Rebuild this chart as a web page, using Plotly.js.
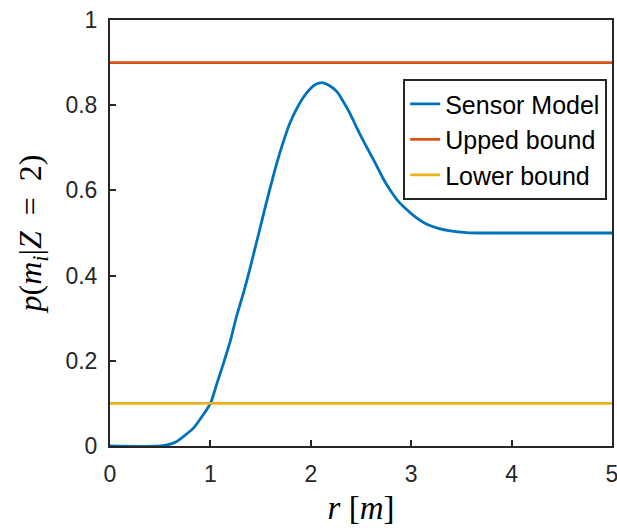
<!DOCTYPE html>
<html>
<head>
<meta charset="utf-8">
<script src="https://cdn.plot.ly/plotly-3.0.1.min.js"></script>
<style>html,body{margin:0;padding:0;background:#fff;}</style>
</head>
<body>
<div id="chart" style="width:617px;height:528px;"></div>
<script>
// Sensor model curve
const rValues = [0, 0.50, 0.58, 0.66, 0.73, 0.83, 0.91, 1.00, 1.06, 1.13, 1.20, 1.26, 1.33, 1.39, 1.44, 1.49, 1.54, 1.59, 1.64, 1.69, 1.74, 1.79, 1.86, 1.93, 2.00, 2.05, 2.11, 2.18, 2.26, 2.32, 2.39, 2.45, 2.52, 2.59, 2.66, 2.72, 2.79, 2.87, 2.96, 3.05, 3.15, 3.27, 3.39, 3.55, 3.69, 5.0];
const pValues = [0, 0, 0.003, 0.010, 0.022, 0.042, 0.067, 0.100, 0.143, 0.194, 0.248, 0.304, 0.360, 0.413, 0.460, 0.507, 0.555, 0.601, 0.646, 0.687, 0.724, 0.757, 0.792, 0.820, 0.840, 0.849, 0.853, 0.847, 0.832, 0.810, 0.781, 0.751, 0.718, 0.687, 0.656, 0.628, 0.601, 0.575, 0.554, 0.536, 0.521, 0.511, 0.505, 0.501, 0.500, 0.500];
const boundX = [0, 5];
const upperBound = [0.9, 0.9];
const lowerBound = [0.1, 0.1];
const seriesNames = ["Sensor Model", "Upped bound", "Lower bound"];
const xTicks = [0, 1, 2, 3, 4, 5];
const yTicks = [0, 0.2, 0.4, 0.6, 0.8, 1];

const axisColor = "#262626";
const traces = [
  {x: rValues, y: pValues, name: seriesNames[0], mode: "lines",
   line: {color: "#0072BD", width: 2.8, shape: "spline", smoothing: 0.8}},
  {x: boundX, y: upperBound, name: seriesNames[1], mode: "lines",
   line: {color: "#D95319", width: 2.8}},
  {x: boundX, y: lowerBound, name: seriesNames[2], mode: "lines",
   line: {color: "#EDB120", width: 2.8}}
];

const axisCommon = {
  showgrid: false, zeroline: false, showline: true, mirror: true,
  linecolor: axisColor, linewidth: 2, ticks: "inside", ticklen: 6,
  tickwidth: 2, tickcolor: axisColor, ticklabeloverflow: "allow",
  tickfont: {family: "Liberation Sans, Arial, sans-serif", size: 23, color: axisColor}
};

const layout = {
  width: 617, height: 528,
  margin: {l: 110, r: 5, t: 20, b: 82},
  paper_bgcolor: "#fff", plot_bgcolor: "#fff",
  showlegend: true,
  legend: {
    x: 0.584, y: 0.861, xanchor: "left", yanchor: "top",
    bgcolor: "#fff", bordercolor: axisColor, borderwidth: 2,
    font: {family: "Liberation Sans, Arial, sans-serif", size: 25, color: "#000"},
    itemwidth: 30, tracegroupgap: 0
  },
  xaxis: Object.assign({}, axisCommon, {
    range: [0, 5], tickvals: xTicks, ticktext: xTicks.map(String),
    ticklabelstandoff: 6,
    title: {text: "<i>r</i> [<i>m</i>]", standoff: 10,
      font: {family: "Liberation Serif, Times New Roman, serif", size: 33, color: "#000"}}
  }),
  yaxis: Object.assign({}, axisCommon, {
    range: [0, 1], tickvals: yTicks, ticktext: yTicks.map(String),
    ticklabelstandoff: 6,
    title: {text: "<i>p</i>(<i>m<sub>i</sub></i>|<i>Z</i>&nbsp;&nbsp;=&nbsp;&nbsp;2)", standoff: 14,
      font: {family: "Liberation Serif, Times New Roman, serif", size: 32, color: "#000"}}
  })
};

Plotly.newPlot("chart", traces, layout, {displayModeBar: false, staticPlot: true});
</script>
</body>
</html>
